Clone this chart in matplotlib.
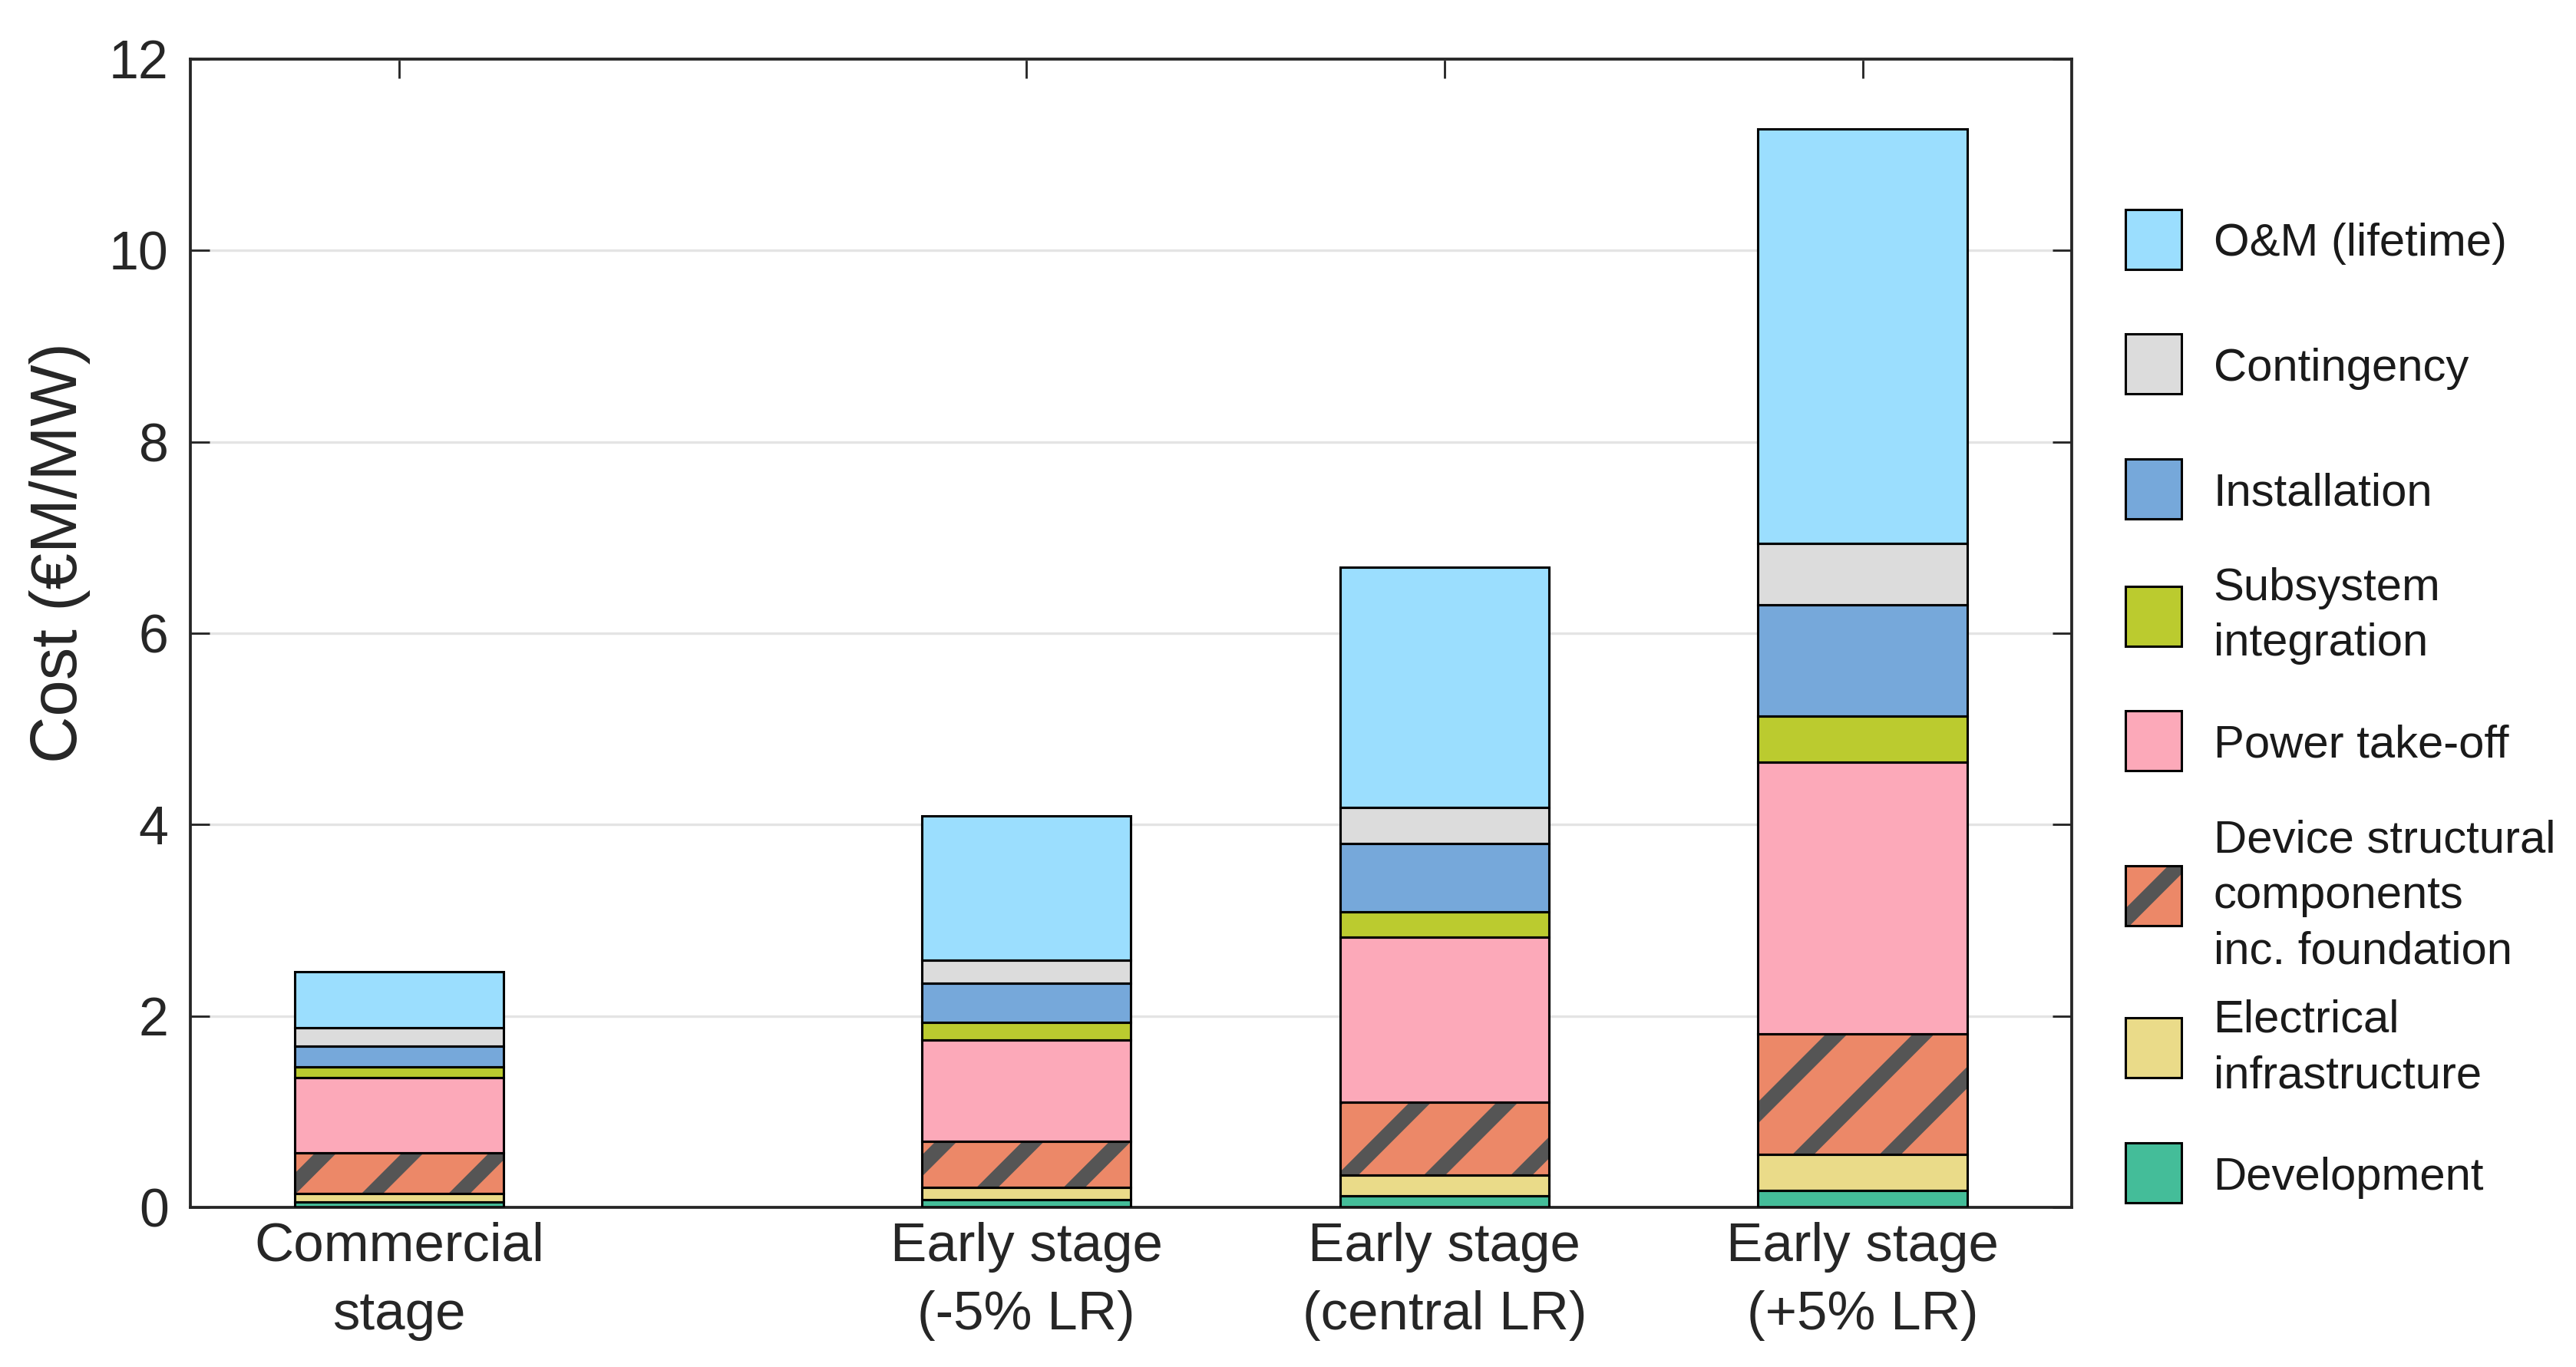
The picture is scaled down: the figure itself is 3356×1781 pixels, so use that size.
import matplotlib
matplotlib.use('Agg')
import matplotlib.pyplot as plt
from matplotlib.patches import Rectangle, Patch
from matplotlib.legend_handler import HandlerBase
import numpy as np

# ---------------- data ----------------
categories = ["Commercial\nstage", "Early stage\n(-5% LR)",
              "Early stage\n(central LR)", "Early stage\n(+5% LR)"]

development = [0.056, 0.08, 0.12, 0.18]
electrical = [0.09, 0.13, 0.22, 0.37]
structural = [0.42, 0.48, 0.76, 1.26]
power_take_off = [0.79, 1.06, 1.72, 2.84]
subsystem = [0.11, 0.18, 0.27, 0.48]
installation = [0.22, 0.41, 0.71, 1.17]
contingency = [0.19, 0.24, 0.38, 0.64]
om_lifetime = [0.59, 1.51, 2.51, 4.33]

series_labels = ["Development", "Electrical\ninfrastructure",
                 "Device structural\ncomponents\ninc. foundation",
                 "Power take-off", "Subsystem\nintegration", "Installation",
                 "Contingency", "O&M (lifetime)"]
series_values = [development, electrical, structural, power_take_off,
                 subsystem, installation, contingency, om_lifetime]

yticks = [0, 2, 4, 6, 8, 10, 12]

# ---------------- style ----------------
series_colors = ["#44BD99", "#EADB89", "#EC8868", "#FCA9B9",
                 "#BBCB2F", "#76A8DA", "#DCDCDC", "#9BDEFE"]
series_hatch = [None, None, "/", None, None, None, None, None]
hatch_color = "#555555"
edge_lw = 0.65

DPI = 340
plt.rcParams['font.family'] = ['Liberation Sans', 'DejaVu Sans']
plt.rcParams['hatch.linewidth'] = 4.2

fig = plt.figure(figsize=(3356 / DPI, 1781 / DPI), dpi=DPI)
ax = fig.add_axes([0.0739, 0.1168, 0.8042 - 0.0739, 0.9568 - 0.1168])

x_pos = np.array([1.0, 2.5, 3.5, 4.5])
bar_w = 0.5

bottom = np.zeros(len(categories))
for vals, col, hat in zip(series_values, series_colors, series_hatch):
    vals = np.asarray(vals)
    ax.bar(x_pos, vals, bar_w, bottom=bottom, color=col,
           edgecolor=hatch_color, linewidth=0, hatch=hat, zorder=2)
    ax.bar(x_pos, vals, bar_w, bottom=bottom, fill=False,
           edgecolor='black', linewidth=edge_lw, zorder=3)
    bottom += vals

ax.set_xlim(0.5, 5.0)
ax.set_ylim(0, 12)
ax.set_yticks(yticks)
ax.set_xticks(x_pos)
ax.set_xticklabels(categories, fontsize=15.0, linespacing=1.45)
ax.tick_params(axis='y', labelsize=14.8, pad=6)
ax.tick_params(axis='x', pad=4)
ax.tick_params(direction='in', top=True, right=True, length=5.3,
               width=0.6, colors='#262626', labelcolor='#262626')
for sp in ax.spines.values():
    sp.set_color('#262626')
    sp.set_linewidth(0.8)
ax.set_axisbelow(True)
ax.yaxis.grid(True, color='#e4e4e4', linewidth=0.7)

ax.set_ylabel("Cost (€M/MW)", fontsize=18, color='#262626')
ax.yaxis.set_label_coords(-0.053, 0.570)


class BoxHandler(HandlerBase):
    def create_artists(self, legend, orig_handle, xdescent, ydescent,
                       width, height, fontsize, trans):
        bh = 1.3 * fontsize
        cy = 0.36 * fontsize
        x0 = -xdescent
        y0 = cy - bh / 2
        fill = Rectangle((x0, y0), width, bh,
                         facecolor=orig_handle.get_facecolor(),
                         edgecolor=hatch_color, linewidth=0,
                         hatch=orig_handle.get_hatch(), transform=trans)
        edge = Rectangle((x0, y0), width, bh, fill=False,
                         edgecolor='black', linewidth=edge_lw,
                         transform=trans)
        return [fill, edge]


handles = [Patch(facecolor=c, hatch=h) for c, h in zip(series_colors, series_hatch)]
handler = BoxHandler()
leg = ax.legend(handles[::-1], series_labels[::-1],
                handler_map={Patch: handler},
                loc='center left', bbox_to_anchor=(1.0286, 0.434),
                borderaxespad=0, borderpad=0, frameon=False,
                fontsize=12.7, handlelength=1.22, handleheight=2.9,
                labelspacing=0.58, handletextpad=0.69)
for t in leg.get_texts():
    t.set_color('#1a1a1a')
    t.set_linespacing(1.4)

fig.savefig('out.png', dpi=DPI)
